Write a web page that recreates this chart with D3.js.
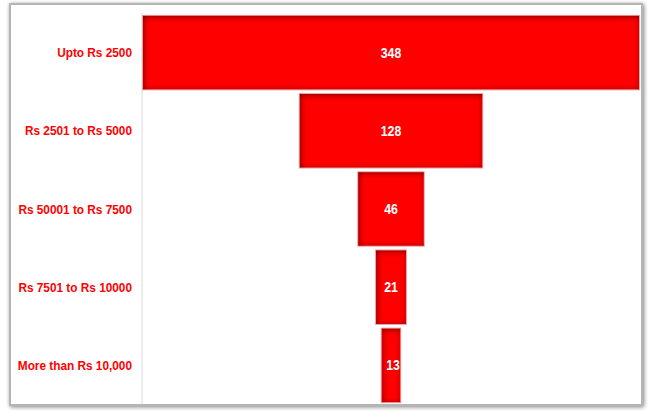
<!DOCTYPE html>
<html>
<head>
<meta charset="utf-8">
<script src="https://cdn.jsdelivr.net/npm/d3@7"></script>
<style>
html,body{margin:0;padding:0;background:#fff;}
svg{display:block;}
</style>
</head>
<body>
<svg id="chart" width="652" height="411"></svg>
<script>
const categories = ["Upto Rs 2500", "Rs 2501 to Rs 5000", "Rs 50001 to Rs 7500", "Rs 7501 to Rs 10000", "More than Rs 10,000"];
const values = [348, 128, 46, 21, 13];

const svg = d3.select("#chart");
const defs = svg.append("defs");

const sh = defs.append("filter").attr("id","frameShadow").attr("x","-5%").attr("y","-5%").attr("width","110%").attr("height","110%");
sh.append("feGaussianBlur").attr("in","SourceAlpha").attr("stdDeviation",2).attr("result","b");
sh.append("feOffset").attr("in","b").attr("dx",1).attr("dy",1).attr("result","o");
sh.append("feComponentTransfer").attr("in","o").attr("result","o2")
  .append("feFuncA").attr("type","linear").attr("slope",0.5);
const m0 = sh.append("feMerge"); m0.append("feMergeNode").attr("in","o2"); m0.append("feMergeNode").attr("in","SourceGraphic");

const inner = defs.append("filter").attr("id","inner").attr("x","-20%").attr("y","-20%").attr("width","140%").attr("height","140%");
inner.append("feFlood").attr("flood-color","#4a0000").attr("result","f");
inner.append("feComposite").attr("in","f").attr("in2","SourceAlpha").attr("operator","out").attr("result","outside");
inner.append("feGaussianBlur").attr("in","outside").attr("stdDeviation",3).attr("result","blur");
inner.append("feOffset").attr("in","blur").attr("dx",0.5).attr("dy",1).attr("result","blurO");
inner.append("feComposite").attr("in","blurO").attr("in2","SourceAlpha").attr("operator","in").attr("result","shadow");
const m1 = inner.append("feMerge"); m1.append("feMergeNode").attr("in","SourceGraphic"); m1.append("feMergeNode").attr("in","shadow");

// frame
svg.append("rect").attr("x",10).attr("y",4).attr("width",632).attr("height",401)
  .attr("fill","#fff").attr("stroke","#b5b5b5").attr("stroke-width",2).attr("filter","url(#frameShadow)");

const y = d3.scaleBand().domain(categories).range([13.5, 404.5]).paddingInner(0.06).paddingOuter(0.03);
const maxV = d3.max(values);
const x = d3.scaleLinear().domain([-maxV/2, maxV/2]).range([143, 639]);

// axis line
svg.append("line").attr("x1",142).attr("x2",142).attr("y1",13).attr("y2",404)
  .attr("stroke","#d9d9d9").attr("stroke-width",1);

const data = categories.map((c,i)=>({c, v: values[i]}));

// light outer outline
svg.append("g").selectAll("rect").data(data).join("rect")
  .attr("x", d => x(-d.v/2) - 0.5)
  .attr("width", d => x(d.v/2) - x(-d.v/2) + 1)
  .attr("y", d => y(d.c) - 0.5)
  .attr("height", y.bandwidth() + 1)
  .attr("fill", "none")
  .attr("stroke", "#e9a3a3").attr("stroke-width", 1);

svg.append("g").selectAll("rect").data(data).join("rect")
  .attr("x", d => x(-d.v/2))
  .attr("width", d => x(d.v/2) - x(-d.v/2))
  .attr("y", d => y(d.c))
  .attr("height", y.bandwidth())
  .attr("fill", "#ff0000")
  .attr("filter", "url(#inner)");

const fontFam = "'Liberation Sans', Arial, sans-serif";

svg.append("g").selectAll("text").data(data).join("text")
  .attr("transform", d => `translate(${x(0) + (d.v < 20 ? 2 : 0)},${y(d.c) + y.bandwidth()/2}) scale(0.88,1)`)
  .attr("dy", "0.35em")
  .attr("text-anchor","middle")
  .attr("fill","#ffffff")
  .attr("font-family", fontFam)
  .attr("font-weight","bold")
  .attr("font-size","14px")
  .text(d => d.v);

svg.append("g").selectAll("text").data(categories).join("text")
  .attr("transform", d => `translate(132,${y(d) + y.bandwidth()/2}) scale(0.91,1)`)
  .attr("dy","0.35em")
  .attr("text-anchor","end")
  .attr("fill","#ff0000")
  .attr("font-family", fontFam)
  .attr("font-weight","bold")
  .attr("font-size","13px")
  .text(d => d);
</script>
</body>
</html>
